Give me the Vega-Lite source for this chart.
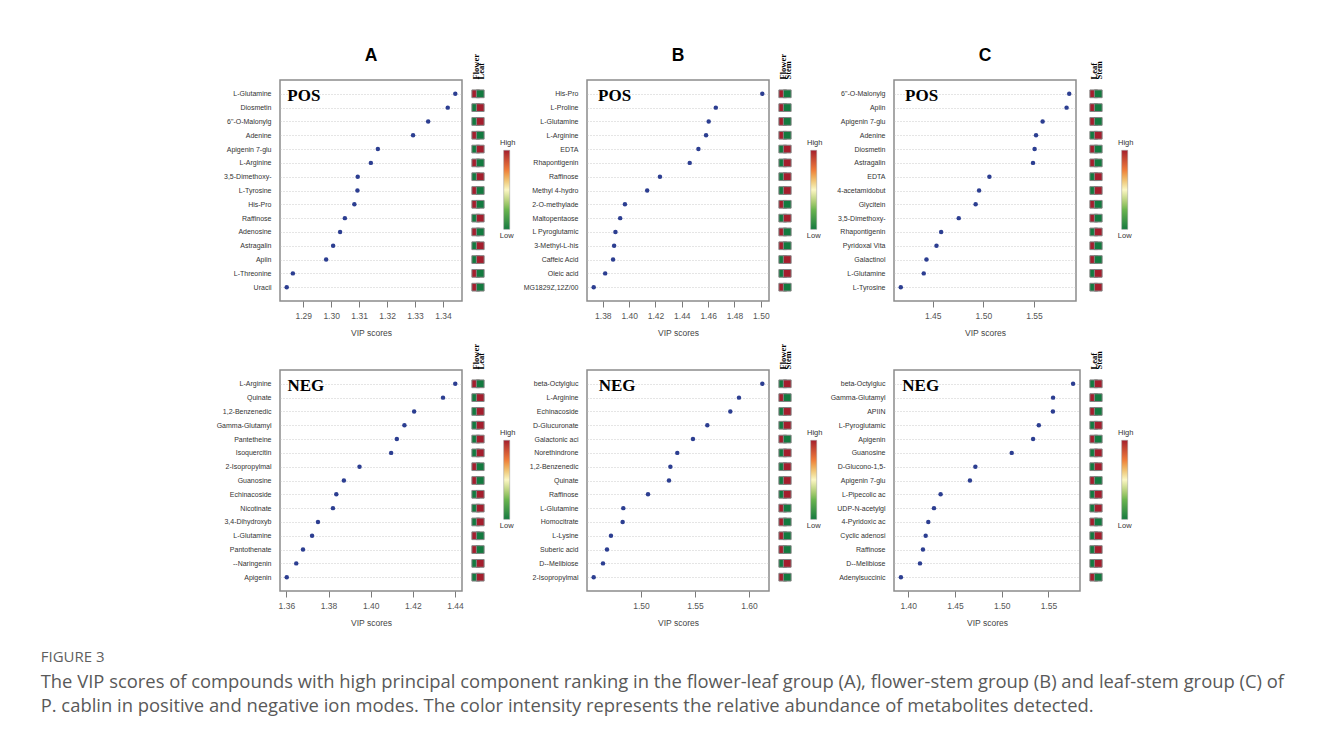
{
  "$schema": "https://vega.github.io/schema/vega-lite/v6.json",
  "background": "white",
  "padding": {"left": 40, "top": 46, "right": 10, "bottom": 10},
  "datasets": {
    "aPos": [
      {"compound": "L-Glutamine", "vip": 1.3444, "Flower": 1, "Leaf": 0},
      {"compound": "Diosmetin", "vip": 1.3417, "Flower": 0, "Leaf": 1},
      {"compound": "6\"-O-Malonylg", "vip": 1.3347, "Flower": 0, "Leaf": 1},
      {"compound": "Adenine", "vip": 1.3293, "Flower": 1, "Leaf": 0},
      {"compound": "Apigenin 7-glu", "vip": 1.3167, "Flower": 0, "Leaf": 1},
      {"compound": "L-Arginine", "vip": 1.3142, "Flower": 1, "Leaf": 0},
      {"compound": "3,5-Dimethoxy-", "vip": 1.3095, "Flower": 0, "Leaf": 1},
      {"compound": "L-Tyrosine", "vip": 1.3094, "Flower": 1, "Leaf": 0},
      {"compound": "His-Pro", "vip": 1.3083, "Flower": 1, "Leaf": 0},
      {"compound": "Raffinose", "vip": 1.3049, "Flower": 0, "Leaf": 1},
      {"compound": "Adenosine", "vip": 1.3032, "Flower": 1, "Leaf": 0},
      {"compound": "Astragalin", "vip": 1.3007, "Flower": 0, "Leaf": 1},
      {"compound": "Apiin", "vip": 1.2982, "Flower": 0, "Leaf": 1},
      {"compound": "L-Threonine", "vip": 1.2863, "Flower": 1, "Leaf": 0},
      {"compound": "Uracil", "vip": 1.2841, "Flower": 1, "Leaf": 0}
    ],
    "bPos": [
      {"compound": "His-Pro", "vip": 1.5011, "Flower": 1, "Stem": 0},
      {"compound": "L-Proline", "vip": 1.4658, "Flower": 1, "Stem": 0},
      {"compound": "L-Glutamine", "vip": 1.4604, "Flower": 1, "Stem": 0},
      {"compound": "L-Arginine", "vip": 1.4584, "Flower": 1, "Stem": 0},
      {"compound": "EDTA", "vip": 1.4526, "Flower": 0, "Stem": 1},
      {"compound": "Rhapontigenin", "vip": 1.4460, "Flower": 0, "Stem": 1},
      {"compound": "Raffinose", "vip": 1.4234, "Flower": 0, "Stem": 1},
      {"compound": "Methyl 4-hydro", "vip": 1.4137, "Flower": 0, "Stem": 1},
      {"compound": "2-O-methylade", "vip": 1.3968, "Flower": 1, "Stem": 0},
      {"compound": "Maltopentaose", "vip": 1.3932, "Flower": 0, "Stem": 1},
      {"compound": "L Pyroglutamic", "vip": 1.3896, "Flower": 1, "Stem": 0},
      {"compound": "3-Methyl-L-his", "vip": 1.3886, "Flower": 1, "Stem": 0},
      {"compound": "Caffeic Acid", "vip": 1.3878, "Flower": 0, "Stem": 1},
      {"compound": "Oleic acid", "vip": 1.3818, "Flower": 0, "Stem": 1},
      {"compound": "MG1829Z,12Z/00", "vip": 1.3731, "Flower": 1, "Stem": 0}
    ],
    "cPos": [
      {"compound": "6\"-O-Malonylg", "vip": 1.5849, "Leaf": 1, "Stem": 0},
      {"compound": "Apiin", "vip": 1.5823, "Leaf": 1, "Stem": 0},
      {"compound": "Apigenin 7-glu", "vip": 1.5586, "Leaf": 1, "Stem": 0},
      {"compound": "Adenine", "vip": 1.5521, "Leaf": 0, "Stem": 1},
      {"compound": "Diosmetin", "vip": 1.5507, "Leaf": 1, "Stem": 0},
      {"compound": "Astragalin", "vip": 1.5491, "Leaf": 1, "Stem": 0},
      {"compound": "EDTA", "vip": 1.5060, "Leaf": 0, "Stem": 1},
      {"compound": "4-acetamidobut", "vip": 1.4958, "Leaf": 0, "Stem": 1},
      {"compound": "Glycitein", "vip": 1.4924, "Leaf": 1, "Stem": 0},
      {"compound": "3,5-Dimethoxy-", "vip": 1.4757, "Leaf": 1, "Stem": 0},
      {"compound": "Rhapontigenin", "vip": 1.4583, "Leaf": 0, "Stem": 1},
      {"compound": "Pyridoxal Vita", "vip": 1.4537, "Leaf": 1, "Stem": 0},
      {"compound": "Galactinol", "vip": 1.4438, "Leaf": 1, "Stem": 0},
      {"compound": "L-Glutamine", "vip": 1.4411, "Leaf": 0, "Stem": 1},
      {"compound": "L-Tyrosine", "vip": 1.4184, "Leaf": 0, "Stem": 1}
    ],
    "aNeg": [
      {"compound": "L-Arginine", "vip": 1.4401, "Flower": 1, "Leaf": 0},
      {"compound": "Quinate", "vip": 1.4343, "Flower": 0, "Leaf": 1},
      {"compound": "1,2-Benzenedic", "vip": 1.4206, "Flower": 0, "Leaf": 1},
      {"compound": "Gamma-Glutamyl", "vip": 1.4160, "Flower": 0, "Leaf": 1},
      {"compound": "Pantetheine", "vip": 1.4124, "Flower": 0, "Leaf": 1},
      {"compound": "Isoquercitin", "vip": 1.4097, "Flower": 0, "Leaf": 1},
      {"compound": "2-Isopropylmal", "vip": 1.3947, "Flower": 1, "Leaf": 0},
      {"compound": "Guanosine", "vip": 1.3873, "Flower": 1, "Leaf": 0},
      {"compound": "Echinacoside", "vip": 1.3837, "Flower": 0, "Leaf": 1},
      {"compound": "Nicotinate", "vip": 1.3821, "Flower": 0, "Leaf": 1},
      {"compound": "3,4-Dihydroxyb", "vip": 1.3750, "Flower": 0, "Leaf": 1},
      {"compound": "L-Glutamine", "vip": 1.3722, "Flower": 1, "Leaf": 0},
      {"compound": "Pantothenate", "vip": 1.3679, "Flower": 1, "Leaf": 0},
      {"compound": "--Naringenin", "vip": 1.3647, "Flower": 0, "Leaf": 1},
      {"compound": "Apigenin", "vip": 1.3602, "Flower": 0, "Leaf": 1}
    ],
    "bNeg": [
      {"compound": "beta-Octylgluc", "vip": 1.6123, "Flower": 0, "Stem": 1},
      {"compound": "L-Arginine", "vip": 1.5907, "Flower": 1, "Stem": 0},
      {"compound": "Echinacoside", "vip": 1.5827, "Flower": 0, "Stem": 1},
      {"compound": "D-Glucuronate", "vip": 1.5614, "Flower": 0, "Stem": 1},
      {"compound": "Galactonic aci", "vip": 1.5481, "Flower": 1, "Stem": 0},
      {"compound": "Norethindrone", "vip": 1.5336, "Flower": 0, "Stem": 1},
      {"compound": "1,2-Benzenedic", "vip": 1.5272, "Flower": 0, "Stem": 1},
      {"compound": "Quinate", "vip": 1.5259, "Flower": 0, "Stem": 1},
      {"compound": "Raffinose", "vip": 1.5065, "Flower": 0, "Stem": 1},
      {"compound": "L-Glutamine", "vip": 1.4836, "Flower": 1, "Stem": 0},
      {"compound": "Homocitrate", "vip": 1.4830, "Flower": 1, "Stem": 0},
      {"compound": "L-Lysine", "vip": 1.4722, "Flower": 1, "Stem": 0},
      {"compound": "Suberic acid", "vip": 1.4685, "Flower": 1, "Stem": 0},
      {"compound": "D--Melibiose", "vip": 1.4648, "Flower": 0, "Stem": 1},
      {"compound": "2-Isopropylmal", "vip": 1.4562, "Flower": 1, "Stem": 0}
    ],
    "cNeg": [
      {"compound": "beta-Octylgluc", "vip": 1.5764, "Leaf": 0, "Stem": 1},
      {"compound": "Gamma-Glutamyl", "vip": 1.5550, "Leaf": 1, "Stem": 0},
      {"compound": "APIIN", "vip": 1.5548, "Leaf": 1, "Stem": 0},
      {"compound": "L-Pyroglutamic", "vip": 1.5397, "Leaf": 0, "Stem": 1},
      {"compound": "Apigenin", "vip": 1.5336, "Leaf": 1, "Stem": 0},
      {"compound": "Guanosine", "vip": 1.5107, "Leaf": 0, "Stem": 1},
      {"compound": "D-Glucono-1,5-", "vip": 1.4718, "Leaf": 0, "Stem": 1},
      {"compound": "Apigenin 7-glu", "vip": 1.4660, "Leaf": 1, "Stem": 0},
      {"compound": "L-Pipecolic ac", "vip": 1.4346, "Leaf": 0, "Stem": 1},
      {"compound": "UDP-N-acetylgl", "vip": 1.4275, "Leaf": 0, "Stem": 1},
      {"compound": "4-Pyridoxic ac", "vip": 1.4214, "Leaf": 1, "Stem": 0},
      {"compound": "Cyclic adenosi", "vip": 1.4186, "Leaf": 0, "Stem": 1},
      {"compound": "Raffinose", "vip": 1.4157, "Leaf": 0, "Stem": 1},
      {"compound": "D--Melibiose", "vip": 1.4125, "Leaf": 0, "Stem": 1},
      {"compound": "Adenylsuccinic", "vip": 1.3921, "Leaf": 1, "Stem": 0}
    ]
  },
  "title": {
    "text": "FIGURE 3",
    "subtitle": [
      "The VIP scores of compounds with high principal component ranking in the flower-leaf group (A), flower-stem group (B) and leaf-stem group (C) of",
      "P. cablin in positive and negative ion modes. The color intensity represents the relative abundance of metabolites detected."
    ],
    "orient": "bottom",
    "anchor": "start",
    "frame": "group",
    "dx": -239.3,
    "offset": 22.5,
    "baseline": "top",
    "font": "Open Sans",
    "fontSize": 15,
    "fontWeight": "normal",
    "color": "#5f5f5f",
    "subtitleFont": "Open Sans",
    "subtitleFontSize": 18.4,
    "subtitleColor": "#595959",
    "subtitlePadding": 8,
    "subtitleLineHeight": 24
  },
  "columns": 6,
  "bounds": "flush",
  "align": "none",
  "spacing": {"row": 69, "column": 7},
  "resolve": {
    "scale": {"x": "independent", "y": "independent", "fill": "independent", "stroke": "independent"},
    "axis": {"x": "independent", "y": "independent"},
    "legend": {"fill": "independent", "stroke": "independent"}
  },
  "concat": [
    {
      "width": 182, "height": 221,
      "data": {"name": "aPos"},
      "title": {"text": "A"},
      "layer": [
        {"mark": {"type": "circle", "size": 20, "color": "#2c3e91", "opacity": 1},
         "encoding": {
           "x": {"field": "vip", "type": "quantitative", "scale": {"domain": [1.2817, 1.3468], "nice": false, "zero": false},
                 "axis": {"values": [1.29, 1.30, 1.31, 1.32, 1.33, 1.34], "format": ".2f", "title": "VIP scores", "labelOverlap": false}},
           "y": {"field": "compound", "type": "nominal", "sort": null, "scale": {"type": "point", "padding": 1}, "axis": {"title": null}}
         }},
        {"transform": [{"filter": {"field": "compound", "equal": "L-Glutamine"}}],
         "mark": {"type": "text", "text": "POS", "font": "Liberation Serif", "fontWeight": "bold", "fontSize": 17, "align": "left", "baseline": "middle", "dy": 2, "color": "#000"},
         "encoding": {
           "x": {"datum": 1.2843, "type": "quantitative", "axis": {"values": [1.29, 1.30, 1.31, 1.32, 1.33, 1.34], "format": ".2f", "title": "VIP scores", "labelOverlap": false}},
           "y": {"field": "compound", "type": "nominal", "sort": null}
         }}
      ]
    },
    {
      "width": 110.4, "height": 221,
      "data": {"name": "aPos"},
      "view": {"stroke": null},
      "transform": [{"fold": ["Flower", "Leaf"], "as": ["tissue", "level"]}],
      "mark": {"type": "square", "size": 60, "opacity": 1, "strokeWidth": 1},
      "encoding": {
        "x": {"field": "tissue", "type": "nominal", "sort": ["Flower", "Leaf"], "scale": {"type": "point", "range": [4.5, 13.5]}, "axis": {"orient": "top", "title": null}},
        "y": {"field": "compound", "type": "nominal", "sort": null, "scale": {"type": "point", "padding": 1}, "axis": null},
        "fill": {"field": "level", "type": "quantitative", "scale": {"domain": [0, 0.25, 0.5, 0.75, 1], "range": ["#137a3f", "#6bb54f", "#fbf7c4", "#ef7d3a", "#a41e2d"]},
                 "legend": {"orient": "none", "legendX": 30.7, "legendY": 59.3, "direction": "vertical", "title": "High", "titleAnchor": "middle", "titleAlign": "center", "titleBaseline": "top", "titlePadding": 3.5, "titleFont": "Liberation Sans", "titleFontSize": 7.5, "titleFontWeight": "normal", "titleColor": "#333", "gradientLength": 79, "gradientThickness": 6, "gradientStrokeColor": "#9a9a9a", "gradientStrokeWidth": 0.5, "values": [0, 1], "labelExpr": "''", "padding": 0}},
        "stroke": {"field": "level", "type": "quantitative", "scale": {"domain": [0, 1], "range": ["#858585", "#858585"]},
                 "legend": {"orient": "none", "legendX": 30.7, "legendY": 152.3, "direction": "vertical", "title": "Low", "titleAnchor": "middle", "titleAlign": "center", "titleBaseline": "top", "titlePadding": 0, "titleFont": "Liberation Sans", "titleFontSize": 7.5, "titleFontWeight": "normal", "titleColor": "#333", "gradientLength": 2, "gradientThickness": 6, "gradientOpacity": 0, "gradientStrokeWidth": 0, "values": [0, 1], "labelExpr": "''", "padding": 0}}
      }
    },
    {
      "width": 182, "height": 221,
      "data": {"name": "bPos"},
      "title": {"text": "B"},
      "layer": [
        {"mark": {"type": "circle", "size": 20, "color": "#2c3e91", "opacity": 1},
         "encoding": {
           "x": {"field": "vip", "type": "quantitative", "scale": {"domain": [1.3680, 1.5062], "nice": false, "zero": false},
                 "axis": {"values": [1.38, 1.40, 1.42, 1.44, 1.46, 1.48, 1.50], "format": ".2f", "title": "VIP scores", "labelOverlap": false}},
           "y": {"field": "compound", "type": "nominal", "sort": null, "scale": {"type": "point", "padding": 1}, "axis": {"title": null}}
         }},
        {"transform": [{"filter": {"field": "compound", "equal": "His-Pro"}}],
         "mark": {"type": "text", "text": "POS", "font": "Liberation Serif", "fontWeight": "bold", "fontSize": 17, "align": "left", "baseline": "middle", "dy": 2, "color": "#000"},
         "encoding": {
           "x": {"datum": 1.3764, "type": "quantitative", "axis": {"values": [1.38, 1.40, 1.42, 1.44, 1.46, 1.48, 1.50], "format": ".2f", "title": "VIP scores", "labelOverlap": false}},
           "y": {"field": "compound", "type": "nominal", "sort": null}
         }}
      ]
    },
    {
      "width": 110.4, "height": 221,
      "data": {"name": "bPos"},
      "view": {"stroke": null},
      "transform": [{"fold": ["Flower", "Stem"], "as": ["tissue", "level"]}],
      "mark": {"type": "square", "size": 60, "opacity": 1, "strokeWidth": 1},
      "encoding": {
        "x": {"field": "tissue", "type": "nominal", "sort": ["Flower", "Stem"], "scale": {"type": "point", "range": [4.5, 13.5]}, "axis": {"orient": "top", "title": null}},
        "y": {"field": "compound", "type": "nominal", "sort": null, "scale": {"type": "point", "padding": 1}, "axis": null},
        "fill": {"field": "level", "type": "quantitative", "scale": {"domain": [0, 0.25, 0.5, 0.75, 1], "range": ["#137a3f", "#6bb54f", "#fbf7c4", "#ef7d3a", "#a41e2d"]},
                 "legend": {"orient": "none", "legendX": 30.7, "legendY": 59.3, "direction": "vertical", "title": "High", "titleAnchor": "middle", "titleAlign": "center", "titleBaseline": "top", "titlePadding": 3.5, "titleFont": "Liberation Sans", "titleFontSize": 7.5, "titleFontWeight": "normal", "titleColor": "#333", "gradientLength": 79, "gradientThickness": 6, "gradientStrokeColor": "#9a9a9a", "gradientStrokeWidth": 0.5, "values": [0, 1], "labelExpr": "''", "padding": 0}},
        "stroke": {"field": "level", "type": "quantitative", "scale": {"domain": [0, 1], "range": ["#858585", "#858585"]},
                 "legend": {"orient": "none", "legendX": 30.7, "legendY": 152.3, "direction": "vertical", "title": "Low", "titleAnchor": "middle", "titleAlign": "center", "titleBaseline": "top", "titlePadding": 0, "titleFont": "Liberation Sans", "titleFontSize": 7.5, "titleFontWeight": "normal", "titleColor": "#333", "gradientLength": 2, "gradientThickness": 6, "gradientOpacity": 0, "gradientStrokeWidth": 0, "values": [0, 1], "labelExpr": "''", "padding": 0}}
      }
    },
    {
      "width": 182, "height": 221,
      "data": {"name": "cPos"},
      "title": {"text": "C"},
      "layer": [
        {"mark": {"type": "circle", "size": 20, "color": "#2c3e91", "opacity": 1},
         "encoding": {
           "x": {"field": "vip", "type": "quantitative", "scale": {"domain": [1.4117, 1.5916], "nice": false, "zero": false},
                 "axis": {"values": [1.45, 1.50, 1.55], "format": ".2f", "title": "VIP scores", "labelOverlap": false}},
           "y": {"field": "compound", "type": "nominal", "sort": null, "scale": {"type": "point", "padding": 1}, "axis": {"title": null}}
         }},
        {"transform": [{"filter": {"field": "compound", "equal": "6\"-O-Malonylg"}}],
         "mark": {"type": "text", "text": "POS", "font": "Liberation Serif", "fontWeight": "bold", "fontSize": 17, "align": "left", "baseline": "middle", "dy": 2, "color": "#000"},
         "encoding": {
           "x": {"datum": 1.4226, "type": "quantitative", "axis": {"values": [1.45, 1.50, 1.55], "format": ".2f", "title": "VIP scores", "labelOverlap": false}},
           "y": {"field": "compound", "type": "nominal", "sort": null}
         }}
      ]
    },
    {
      "width": 40, "height": 221,
      "data": {"name": "cPos"},
      "view": {"stroke": null},
      "transform": [{"fold": ["Leaf", "Stem"], "as": ["tissue", "level"]}],
      "mark": {"type": "square", "size": 60, "opacity": 1, "strokeWidth": 1},
      "encoding": {
        "x": {"field": "tissue", "type": "nominal", "sort": ["Leaf", "Stem"], "scale": {"type": "point", "range": [4.5, 13.5]}, "axis": {"orient": "top", "title": null}},
        "y": {"field": "compound", "type": "nominal", "sort": null, "scale": {"type": "point", "padding": 1}, "axis": null},
        "fill": {"field": "level", "type": "quantitative", "scale": {"domain": [0, 0.25, 0.5, 0.75, 1], "range": ["#137a3f", "#6bb54f", "#fbf7c4", "#ef7d3a", "#a41e2d"]},
                 "legend": {"orient": "none", "legendX": 30.7, "legendY": 59.3, "direction": "vertical", "title": "High", "titleAnchor": "middle", "titleAlign": "center", "titleBaseline": "top", "titlePadding": 3.5, "titleFont": "Liberation Sans", "titleFontSize": 7.5, "titleFontWeight": "normal", "titleColor": "#333", "gradientLength": 79, "gradientThickness": 6, "gradientStrokeColor": "#9a9a9a", "gradientStrokeWidth": 0.5, "values": [0, 1], "labelExpr": "''", "padding": 0}},
        "stroke": {"field": "level", "type": "quantitative", "scale": {"domain": [0, 1], "range": ["#858585", "#858585"]},
                 "legend": {"orient": "none", "legendX": 30.7, "legendY": 152.3, "direction": "vertical", "title": "Low", "titleAnchor": "middle", "titleAlign": "center", "titleBaseline": "top", "titlePadding": 0, "titleFont": "Liberation Sans", "titleFontSize": 7.5, "titleFontWeight": "normal", "titleColor": "#333", "gradientLength": 2, "gradientThickness": 6, "gradientOpacity": 0, "gradientStrokeWidth": 0, "values": [0, 1], "labelExpr": "''", "padding": 0}}
      }
    },
    {
      "width": 182, "height": 221,
      "data": {"name": "aNeg"},
      "layer": [
        {"mark": {"type": "circle", "size": 20, "color": "#2c3e91", "opacity": 1},
         "encoding": {
           "x": {"field": "vip", "type": "quantitative", "scale": {"domain": [1.3570, 1.4433], "nice": false, "zero": false},
                 "axis": {"values": [1.36, 1.38, 1.40, 1.42, 1.44], "format": ".2f", "title": "VIP scores", "labelOverlap": false}},
           "y": {"field": "compound", "type": "nominal", "sort": null, "scale": {"type": "point", "padding": 1}, "axis": {"title": null}}
         }},
        {"transform": [{"filter": {"field": "compound", "equal": "L-Arginine"}}],
         "mark": {"type": "text", "text": "NEG", "font": "Liberation Serif", "fontWeight": "bold", "fontSize": 17, "align": "left", "baseline": "middle", "dy": 2, "color": "#000"},
         "encoding": {
           "x": {"datum": 1.3605, "type": "quantitative", "axis": {"values": [1.36, 1.38, 1.40, 1.42, 1.44], "format": ".2f", "title": "VIP scores", "labelOverlap": false}},
           "y": {"field": "compound", "type": "nominal", "sort": null}
         }}
      ]
    },
    {
      "width": 110.4, "height": 221,
      "data": {"name": "aNeg"},
      "view": {"stroke": null},
      "transform": [{"fold": ["Flower", "Leaf"], "as": ["tissue", "level"]}],
      "mark": {"type": "square", "size": 60, "opacity": 1, "strokeWidth": 1},
      "encoding": {
        "x": {"field": "tissue", "type": "nominal", "sort": ["Flower", "Leaf"], "scale": {"type": "point", "range": [4.5, 13.5]}, "axis": {"orient": "top", "title": null}},
        "y": {"field": "compound", "type": "nominal", "sort": null, "scale": {"type": "point", "padding": 1}, "axis": null},
        "fill": {"field": "level", "type": "quantitative", "scale": {"domain": [0, 0.25, 0.5, 0.75, 1], "range": ["#137a3f", "#6bb54f", "#fbf7c4", "#ef7d3a", "#a41e2d"]},
                 "legend": {"orient": "none", "legendX": 30.7, "legendY": 59.3, "direction": "vertical", "title": "High", "titleAnchor": "middle", "titleAlign": "center", "titleBaseline": "top", "titlePadding": 3.5, "titleFont": "Liberation Sans", "titleFontSize": 7.5, "titleFontWeight": "normal", "titleColor": "#333", "gradientLength": 79, "gradientThickness": 6, "gradientStrokeColor": "#9a9a9a", "gradientStrokeWidth": 0.5, "values": [0, 1], "labelExpr": "''", "padding": 0}},
        "stroke": {"field": "level", "type": "quantitative", "scale": {"domain": [0, 1], "range": ["#858585", "#858585"]},
                 "legend": {"orient": "none", "legendX": 30.7, "legendY": 152.3, "direction": "vertical", "title": "Low", "titleAnchor": "middle", "titleAlign": "center", "titleBaseline": "top", "titlePadding": 0, "titleFont": "Liberation Sans", "titleFontSize": 7.5, "titleFontWeight": "normal", "titleColor": "#333", "gradientLength": 2, "gradientThickness": 6, "gradientOpacity": 0, "gradientStrokeWidth": 0, "values": [0, 1], "labelExpr": "''", "padding": 0}}
      }
    },
    {
      "width": 182, "height": 221,
      "data": {"name": "bNeg"},
      "layer": [
        {"mark": {"type": "circle", "size": 20, "color": "#2c3e91", "opacity": 1},
         "encoding": {
           "x": {"field": "vip", "type": "quantitative", "scale": {"domain": [1.4500, 1.6185], "nice": false, "zero": false},
                 "axis": {"values": [1.50, 1.55, 1.60], "format": ".2f", "title": "VIP scores", "labelOverlap": false}},
           "y": {"field": "compound", "type": "nominal", "sort": null, "scale": {"type": "point", "padding": 1}, "axis": {"title": null}}
         }},
        {"transform": [{"filter": {"field": "compound", "equal": "beta-Octylgluc"}}],
         "mark": {"type": "text", "text": "NEG", "font": "Liberation Serif", "fontWeight": "bold", "fontSize": 17, "align": "left", "baseline": "middle", "dy": 2, "color": "#000"},
         "encoding": {
           "x": {"datum": 1.4608, "type": "quantitative", "axis": {"values": [1.50, 1.55, 1.60], "format": ".2f", "title": "VIP scores", "labelOverlap": false}},
           "y": {"field": "compound", "type": "nominal", "sort": null}
         }}
      ]
    },
    {
      "width": 110.4, "height": 221,
      "data": {"name": "bNeg"},
      "view": {"stroke": null},
      "transform": [{"fold": ["Flower", "Stem"], "as": ["tissue", "level"]}],
      "mark": {"type": "square", "size": 60, "opacity": 1, "strokeWidth": 1},
      "encoding": {
        "x": {"field": "tissue", "type": "nominal", "sort": ["Flower", "Stem"], "scale": {"type": "point", "range": [4.5, 13.5]}, "axis": {"orient": "top", "title": null}},
        "y": {"field": "compound", "type": "nominal", "sort": null, "scale": {"type": "point", "padding": 1}, "axis": null},
        "fill": {"field": "level", "type": "quantitative", "scale": {"domain": [0, 0.25, 0.5, 0.75, 1], "range": ["#137a3f", "#6bb54f", "#fbf7c4", "#ef7d3a", "#a41e2d"]},
                 "legend": {"orient": "none", "legendX": 30.7, "legendY": 59.3, "direction": "vertical", "title": "High", "titleAnchor": "middle", "titleAlign": "center", "titleBaseline": "top", "titlePadding": 3.5, "titleFont": "Liberation Sans", "titleFontSize": 7.5, "titleFontWeight": "normal", "titleColor": "#333", "gradientLength": 79, "gradientThickness": 6, "gradientStrokeColor": "#9a9a9a", "gradientStrokeWidth": 0.5, "values": [0, 1], "labelExpr": "''", "padding": 0}},
        "stroke": {"field": "level", "type": "quantitative", "scale": {"domain": [0, 1], "range": ["#858585", "#858585"]},
                 "legend": {"orient": "none", "legendX": 30.7, "legendY": 152.3, "direction": "vertical", "title": "Low", "titleAnchor": "middle", "titleAlign": "center", "titleBaseline": "top", "titlePadding": 0, "titleFont": "Liberation Sans", "titleFontSize": 7.5, "titleFontWeight": "normal", "titleColor": "#333", "gradientLength": 2, "gradientThickness": 6, "gradientOpacity": 0, "gradientStrokeWidth": 0, "values": [0, 1], "labelExpr": "''", "padding": 0}}
      }
    },
    {
      "width": 186, "height": 221,
      "data": {"name": "cNeg"},
      "layer": [
        {"mark": {"type": "circle", "size": 20, "color": "#2c3e91", "opacity": 1},
         "encoding": {
           "x": {"field": "vip", "type": "quantitative", "scale": {"domain": [1.3847, 1.5838], "nice": false, "zero": false},
                 "axis": {"values": [1.40, 1.45, 1.50, 1.55], "format": ".2f", "title": "VIP scores", "labelOverlap": false}},
           "y": {"field": "compound", "type": "nominal", "sort": null, "scale": {"type": "point", "padding": 1}, "axis": {"title": null}}
         }},
        {"transform": [{"filter": {"field": "compound", "equal": "beta-Octylgluc"}}],
         "mark": {"type": "text", "text": "NEG", "font": "Liberation Serif", "fontWeight": "bold", "fontSize": 17, "align": "left", "baseline": "middle", "dy": 2, "color": "#000"},
         "encoding": {
           "x": {"datum": 1.3936, "type": "quantitative", "axis": {"values": [1.40, 1.45, 1.50, 1.55], "format": ".2f", "title": "VIP scores", "labelOverlap": false}},
           "y": {"field": "compound", "type": "nominal", "sort": null}
         }}
      ]
    },
    {
      "width": 40, "height": 221,
      "data": {"name": "cNeg"},
      "view": {"stroke": null},
      "transform": [{"fold": ["Leaf", "Stem"], "as": ["tissue", "level"]}],
      "mark": {"type": "square", "size": 60, "opacity": 1, "strokeWidth": 1},
      "encoding": {
        "x": {"field": "tissue", "type": "nominal", "sort": ["Leaf", "Stem"], "scale": {"type": "point", "range": [4.5, 13.5]}, "axis": {"orient": "top", "title": null}},
        "y": {"field": "compound", "type": "nominal", "sort": null, "scale": {"type": "point", "padding": 1}, "axis": null},
        "fill": {"field": "level", "type": "quantitative", "scale": {"domain": [0, 0.25, 0.5, 0.75, 1], "range": ["#137a3f", "#6bb54f", "#fbf7c4", "#ef7d3a", "#a41e2d"]},
                 "legend": {"orient": "none", "legendX": 30.7, "legendY": 59.3, "direction": "vertical", "title": "High", "titleAnchor": "middle", "titleAlign": "center", "titleBaseline": "top", "titlePadding": 3.5, "titleFont": "Liberation Sans", "titleFontSize": 7.5, "titleFontWeight": "normal", "titleColor": "#333", "gradientLength": 79, "gradientThickness": 6, "gradientStrokeColor": "#9a9a9a", "gradientStrokeWidth": 0.5, "values": [0, 1], "labelExpr": "''", "padding": 0}},
        "stroke": {"field": "level", "type": "quantitative", "scale": {"domain": [0, 1], "range": ["#858585", "#858585"]},
                 "legend": {"orient": "none", "legendX": 30.7, "legendY": 152.3, "direction": "vertical", "title": "Low", "titleAnchor": "middle", "titleAlign": "center", "titleBaseline": "top", "titlePadding": 0, "titleFont": "Liberation Sans", "titleFontSize": 7.5, "titleFontWeight": "normal", "titleColor": "#333", "gradientLength": 2, "gradientThickness": 6, "gradientOpacity": 0, "gradientStrokeWidth": 0, "values": [0, 1], "labelExpr": "''", "padding": 0}}
      }
    }
  ],
  "config": {
    "font": "Liberation Sans",
    "view": {"stroke": "#8c8c8c", "strokeWidth": 1.5},
    "title": {"font": "Liberation Sans", "fontSize": 17.5, "fontWeight": "bold", "color": "#000", "anchor": "middle", "frame": "group", "offset": 15.7, "baseline": "alphabetic"},
    "axisBottom": {"domain": false, "ticks": true, "tickColor": "#7a7a7a", "tickSize": 6, "tickWidth": 1, "labelFont": "Liberation Sans", "labelFontSize": 8.5, "labelColor": "#555", "labelPadding": 4, "labelOverlap": false, "titleFont": "Liberation Sans", "titleFontSize": 8.5, "titleFontWeight": "normal", "titleColor": "#444", "titlePadding": 9, "grid": false},
    "axisLeft": {"domain": false, "ticks": false, "labelFont": "Liberation Sans", "labelFontSize": 7, "labelColor": "#333", "labelPadding": 9, "labelLimit": 200, "grid": true, "gridColor": "#bdbdbd", "gridDash": [1, 2], "gridWidth": 0.8},
    "axisTop": {"domain": false, "ticks": false, "labelFont": "Liberation Serif", "labelFontWeight": "bold", "labelFontSize": 8.5, "labelColor": "#000", "labelAngle": -90, "labelAlign": "left", "labelBaseline": "middle", "labelPadding": 1, "grid": false}
  }
}
